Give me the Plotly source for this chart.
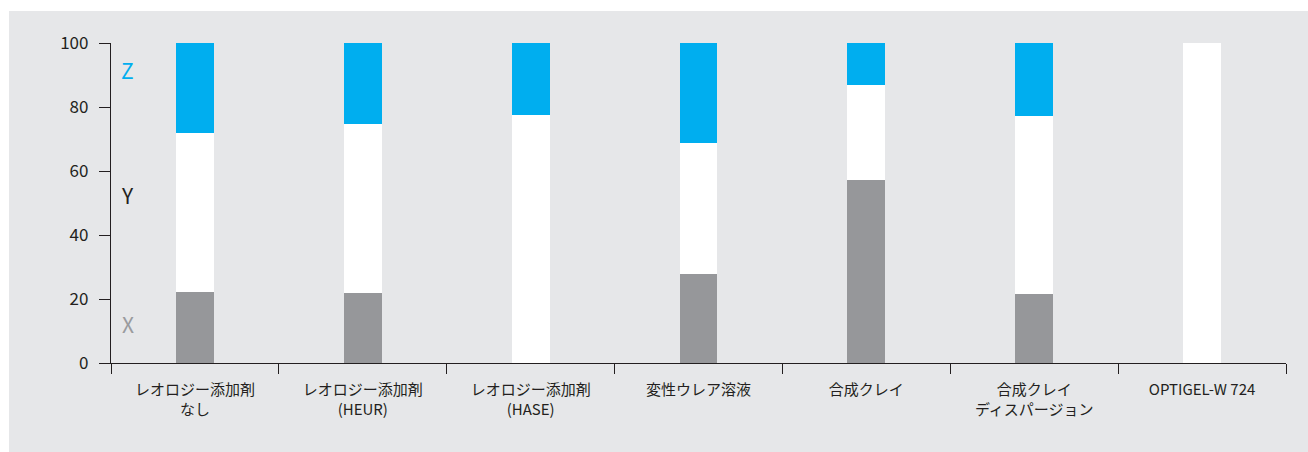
import plotly.graph_objects as go

categories = ["レオロジー添加剤<br>なし", "レオロジー添加剤<br>(HEUR)", "レオロジー添加剤<br>(HASE)",
              "変性ウレア溶液", "合成クレイ", "合成クレイ<br>ディスパージョン", "OPTIGEL-W 724"]
x_vals = [22.2, 21.9, 0, 27.8, 57.2, 21.6, 0]
y_vals = [49.8, 52.8, 77.5, 40.9, 29.7, 55.6, 100]
z_vals = [28.0, 25.3, 22.5, 31.3, 13.1, 22.8, 0]
y_ticks = [0, 20, 40, 60, 80, 100]

FONT = "Noto Sans CJK JP, Noto Sans, sans-serif"
W_BAR = 0.226

fig = go.Figure()
fig.add_bar(x=categories, y=x_vals, name="X", marker=dict(color="#96979a", line=dict(width=0)), width=W_BAR)
fig.add_bar(x=categories, y=y_vals, name="Y", marker=dict(color="#ffffff", line=dict(width=0)), width=W_BAR)
fig.add_bar(x=categories, y=z_vals, name="Z", marker=dict(color="#00aeef", line=dict(width=0)), width=W_BAR)

L, R, T, B = 111, 22, 43, 89
pw, ph = 1308 - L - R, 452 - T - B

fig.add_shape(type="rect", xref="paper", yref="paper",
              x0=(9 - L) / pw, x1=(1310 - L) / pw,
              y0=(452 - B - 455) / ph, y1=(452 - B - 11) / ph,
              fillcolor="#e6e7e9", line=dict(width=0), layer="below")

for txt, yv, col in [("Z", 91.5, "#00aeef"), ("Y", 52.5, "#231f20"), ("X", 12.3, "#9a9b9e")]:
    fig.add_annotation(text=txt, x=(127.5 - L) / pw, xref="paper", y=yv, yref="y",
                       showarrow=False, font=dict(size=21, color=col, family=FONT),
                       xanchor="center", yanchor="middle")

fig.update_layout(
    width=1308, height=452, barmode="stack", showlegend=False,
    margin=dict(l=L, r=R, t=T, b=B),
    paper_bgcolor="white", plot_bgcolor="rgba(0,0,0,0)",
    font=dict(family=FONT, color="#231f20"),
    bargap=0.5,
)
fig.update_yaxes(range=[0, 100], tickvals=y_ticks, showgrid=False, zeroline=False,
                 showline=True, linecolor="#231f20", linewidth=1.3,
                 ticks="outside", ticklen=11, tickcolor="#231f20", tickwidth=1.3,
                 tickfont=dict(size=17, color="#231f20", family=FONT), ticklabelstandoff=7)
fig.update_xaxes(showgrid=False, showline=True, linecolor="#231f20", linewidth=1.3,
                 ticks="outside", ticklen=10, tickcolor="#231f20", tickwidth=1.3,
                 tickson="boundaries", range=[-0.5, 6.5], ticklabelstandoff=13,
                 tickfont=dict(size=15, color="#231f20", family=FONT))

fig.write_html("out.html")
